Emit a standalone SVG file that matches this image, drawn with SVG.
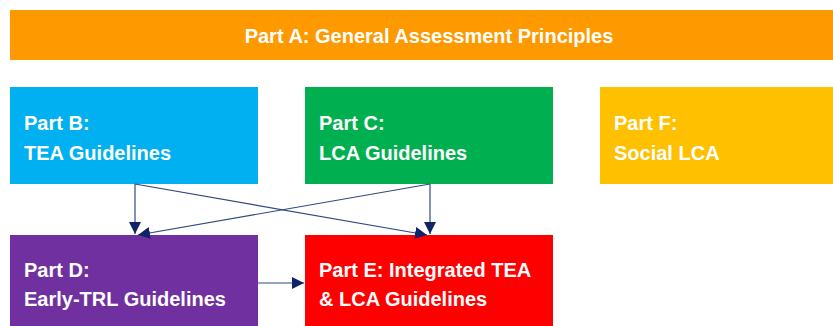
<svg xmlns="http://www.w3.org/2000/svg" width="833" height="326" viewBox="0 0 833 326">
<style>
.t{font-family:"Liberation Sans",Arial,sans-serif;font-weight:bold;font-size:20px;fill:#fff}
.c{fill:none;stroke:#2F4A7E;stroke-width:1.2}
</style>
<defs>
<marker id="ah" viewBox="0 0 10 10" refX="10" refY="5" markerWidth="12" markerHeight="12" markerUnits="userSpaceOnUse" orient="auto">
<path d="M0,0 L10,5 L0,10 Z" fill="#0F2466"/>
</marker>
</defs>
<rect width="833" height="326" fill="#fff"/>
<g id="partA">
<rect x="10" y="10" width="823" height="50" fill="#FF9900"/>
<text class="t" x="429" y="43" text-anchor="middle">Part A: General Assessment Principles</text>
</g>
<g id="partB">
<rect x="10" y="87" width="248" height="97" fill="#00B0F0"/>
<text class="t" x="24" y="130">Part B:</text>
<text class="t" x="24" y="160">TEA Guidelines</text>
</g>
<g id="partC">
<rect x="305" y="87" width="248" height="97" fill="#00B050"/>
<text class="t" x="319" y="130">Part C:</text>
<text class="t" x="319" y="160">LCA Guidelines</text>
</g>
<g id="partF">
<rect x="600" y="87" width="233" height="97" fill="#FFC000"/>
<text class="t" x="614" y="130">Part F:</text>
<text class="t" x="614" y="160">Social LCA</text>
</g>
<g id="partD">
<rect x="10" y="235" width="248" height="91" fill="#7030A0"/>
<text class="t" x="24" y="277">Part D:</text>
<text class="t" x="24" y="306">Early-TRL Guidelines</text>
</g>
<g id="partE">
<rect x="305" y="235" width="248" height="91" fill="#FF0000"/>
<text class="t" x="319" y="277">Part E: Integrated TEA</text>
<text class="t" x="319" y="306">&amp; LCA Guidelines</text>
</g>
<g id="connectors">
<line class="c" x1="135" y1="184" x2="135" y2="234" marker-end="url(#ah)"/>
<line class="c" x1="430" y1="184" x2="430" y2="234" marker-end="url(#ah)"/>
<line class="c" x1="135" y1="184" x2="427" y2="235" marker-end="url(#ah)"/>
<line class="c" x1="430" y1="184" x2="138" y2="235" marker-end="url(#ah)"/>
<line class="c" x1="258" y1="283" x2="304" y2="283" marker-end="url(#ah)"/>
</g>
</svg>
